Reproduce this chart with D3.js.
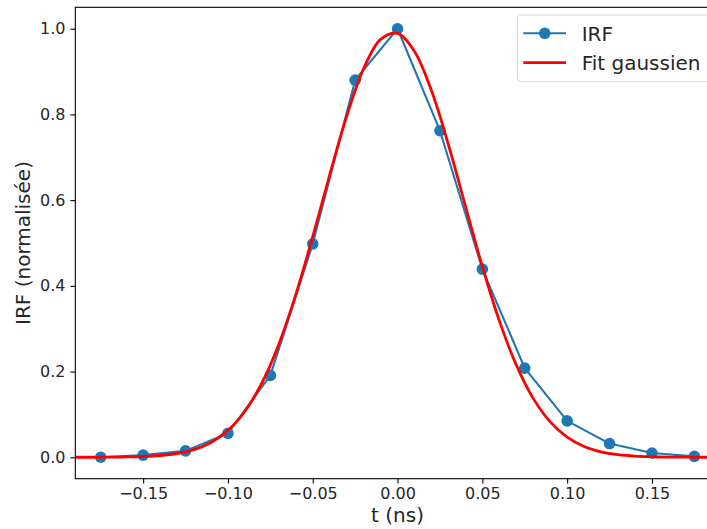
<!DOCTYPE html>
<html>
<head>
<meta charset="utf-8">
<script src="https://cdn.jsdelivr.net/npm/d3@7"></script>
<style>
  html, body { margin: 0; padding: 0; background: #fff; overflow: hidden; }
  svg { display: block; font-family: "DejaVu Sans", sans-serif; }
</style>
</head>
<body>
<svg id="chart" width="707" height="529"></svg>
<script>
// ---- Data ----
const irfTimes = [-0.175, -0.15, -0.125, -0.1, -0.075, -0.05, -0.025, 0.0, 0.025, 0.05, 0.075, 0.1, 0.125, 0.15, 0.175];
const irfValues = [0.000, 0.005, 0.015, 0.056, 0.191, 0.498, 0.880, 1.000, 0.762, 0.439, 0.208, 0.085, 0.032, 0.010, 0.002];

const fitTimes = [-0.19, -0.18, -0.17, -0.16, -0.15, -0.14, -0.13, -0.12, -0.11, -0.10,
                  -0.09, -0.08, -0.07, -0.06, -0.05, -0.04, -0.03, -0.02, -0.01, 0.00,
                  0.01, 0.02, 0.03, 0.04, 0.05, 0.06, 0.07, 0.08, 0.09, 0.10,
                  0.11, 0.12, 0.13, 0.14, 0.15, 0.16, 0.17, 0.18, 0.19];
const fitValues = [0.0000, 0.0001, 0.0003, 0.0007, 0.0018, 0.0041, 0.0088, 0.0180, 0.0346, 0.0627,
                   0.1074, 0.1733, 0.2640, 0.3796, 0.5148, 0.6588, 0.7957, 0.9067, 0.9750, 0.9892,
                   0.9471, 0.8556, 0.7293, 0.5866, 0.4452, 0.3188, 0.2155, 0.1374, 0.0826, 0.0469,
                   0.0251, 0.0127, 0.0061, 0.0027, 0.0012, 0.0005, 0.0002, 0.0001, 0.0000];

const xTicks = [-0.15, -0.10, -0.05, 0.00, 0.05, 0.10, 0.15];
const yTicks = [0.0, 0.2, 0.4, 0.6, 0.8, 1.0];
const seriesNames = ["IRF", "Fit gaussien"];
const xLabel = "t (ns)";
const yLabel = "IRF (normalisée)";

// ---- Layout ----
const plot = { left: 75.3, right: 719.8, top: 7.3, bottom: 478.7 };
const blue = "#1f77b4", red = "#ff0000";

const svg = d3.select("#chart");
const x = d3.scaleLinear().domain([-0.19, 0.19]).range([plot.left, plot.right]);
const y = d3.scaleLinear().domain([-0.05, 1.05]).range([plot.bottom, plot.top]);

svg.append("defs").append("clipPath").attr("id", "clip")
  .append("rect").attr("x", plot.left).attr("y", plot.top)
  .attr("width", plot.right - plot.left).attr("height", plot.bottom - plot.top);

const fmtTick = d => d3.format(".2f")(d).replace("-", "\u2212");
const fmtY = d => d3.format(".1f")(d);

// Axes
const xAxis = d3.axisBottom(x).tickValues(xTicks).tickFormat(fmtTick).tickSize(4.9).tickPadding(3.8);
const yAxis = d3.axisLeft(y).tickValues(yTicks).tickFormat(fmtY).tickSize(4.9).tickPadding(4.9);

const gx = svg.append("g").attr("transform", `translate(0,${plot.bottom})`).call(xAxis);
const gy = svg.append("g").attr("transform", `translate(${plot.left},0)`).call(yAxis);
[gx, gy].forEach(g => {
  g.select(".domain").remove();
  g.selectAll(".tick line").attr("stroke", "#000").attr("stroke-width", 1.1);
  g.selectAll(".tick text").attr("fill", "#262626").style("font-size", "16px")
    .style("font-family", "'DejaVu Sans', sans-serif");
});

// Data series
const plotG = svg.append("g").attr("clip-path", "url(#clip)");
const irfData = irfTimes.map((t, i) => [t, irfValues[i]]);
const fitData = fitTimes.map((t, i) => [t, fitValues[i]]);

plotG.append("path").datum(irfData)
  .attr("fill", "none").attr("stroke", blue).attr("stroke-width", 2.1)
  .attr("stroke-linejoin", "round")
  .attr("d", d3.line().x(d => x(d[0])).y(d => y(d[1])));
plotG.selectAll("circle.irf").data(irfData).enter().append("circle")
  .attr("class", "irf").attr("cx", d => x(d[0])).attr("cy", d => y(d[1]))
  .attr("r", 5.8).attr("fill", blue);

plotG.append("path").datum(fitData)
  .attr("fill", "none").attr("stroke", red).attr("stroke-width", 2.8)
  .attr("stroke-linejoin", "round")
  .attr("d", d3.line().curve(d3.curveCatmullRom.alpha(0.5)).x(d => x(d[0])).y(d => y(d[1])));

// Spines
svg.append("rect").attr("x", plot.left).attr("y", plot.top)
  .attr("width", plot.right - plot.left).attr("height", plot.bottom - plot.top)
  .attr("fill", "none").attr("stroke", "#000").attr("stroke-width", 1.1);

// Axis labels
svg.append("text").attr("x", (plot.left + plot.right) / 2).attr("y", 521.5)
  .attr("text-anchor", "middle").style("font-size", "20px").attr("fill", "#262626")
  .text(xLabel);
svg.append("text")
  .attr("transform", `translate(30,${(plot.top + plot.bottom) / 2}) rotate(-90)`)
  .attr("text-anchor", "middle").style("font-size", "20px").attr("fill", "#262626")
  .text(yLabel);

// Legend
const lg = svg.append("g");
lg.append("rect").attr("x", 517.3).attr("y", 15).attr("width", 196).attr("height", 66.7)
  .attr("rx", 4).attr("fill", "#fff").attr("fill-opacity", 0.8)
  .attr("stroke", "#d6d6d6").attr("stroke-width", 1.1);
const rows = [{ y: 33.3, color: blue, w: 2.1, marker: true },
              { y: 62.7, color: red, w: 2.8, marker: false }];
rows.forEach((r, i) => {
  lg.append("line").attr("x1", 523.3).attr("x2", 566).attr("y1", r.y).attr("y2", r.y)
    .attr("stroke", r.color).attr("stroke-width", r.w);
  if (r.marker) lg.append("circle").attr("cx", 544.7).attr("cy", r.y).attr("r", 5.8).attr("fill", r.color);
  lg.append("text").attr("x", 581.7).attr("y", r.y + 7.4)
    .style("font-size", "20px").attr("fill", "#262626").text(seriesNames[i]);
});
</script>
</body>
</html>
